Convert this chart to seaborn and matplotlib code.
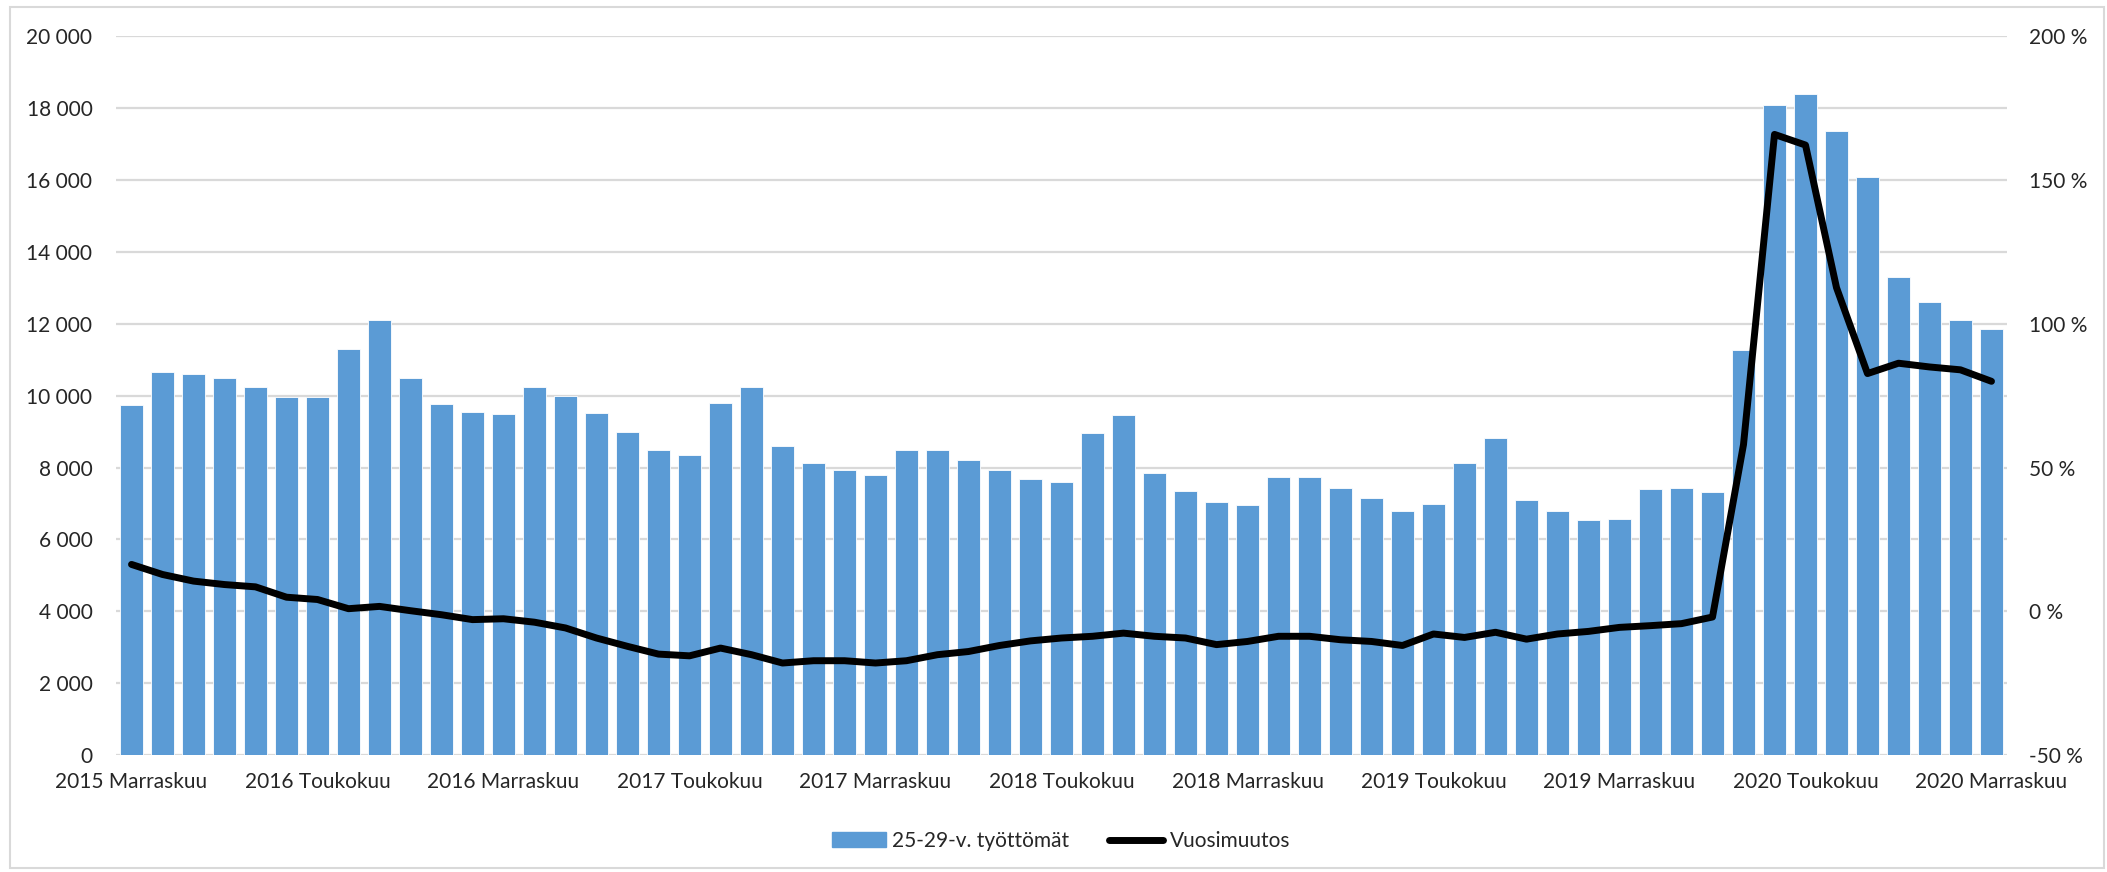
import numpy as np
import pandas as pd
import matplotlib
matplotlib.use("Agg")
import matplotlib.pyplot as plt
import matplotlib.patches as mpatches
import matplotlib.lines as mlines
from matplotlib import font_manager
from matplotlib.ticker import FuncFormatter
import seaborn as sns

# Data (Nov 2015 .. Nov 2020, monthly)
start_year = 2015
month_names = ["Marraskuu", "Joulukuu", "Tammikuu", "Helmikuu", "Maaliskuu", "Huhtikuu",
               "Toukokuu", "Kesäkuu", "Heinäkuu", "Elokuu", "Syyskuu", "Lokakuu"]

unemployed = [9750, 10670, 10600, 10490, 10240, 9960, 9960, 11310, 12100, 10490,
              9780, 9560, 9490, 10240, 9990, 9520, 9000, 8490, 8350, 9810,
              10240, 8600, 8140, 7930, 7780, 8490, 8490, 8200, 7930, 7670,
              7610, 8960, 9460, 7850, 7350, 7030, 6960, 7750, 7750, 7430,
              7140, 6790, 6990, 8140, 8820, 7110, 6790, 6540, 6580, 7390,
              7430, 7320, 11280, 18090, 18400, 17360, 16090, 13310, 12600, 12100, 11870]

yoy_change = [16.3, 12.8, 10.5, 9.3, 8.5, 4.9, 4.1, 0.9, 1.7, 0.2,
              -1.2, -2.9, -2.6, -3.8, -5.8, -9.3, -12.2, -14.9, -15.5, -12.8,
              -15.1, -18.0, -17.2, -17.2, -18.0, -17.2, -15.1, -14.0, -11.9, -10.3,
              -9.3, -8.7, -7.6, -8.7, -9.3, -11.6, -10.5, -8.7, -8.7, -9.9,
              -10.5, -11.9, -7.9, -9.1, -7.3, -9.7, -7.9, -7.0, -5.6, -5.0,
              -4.3, -2.0, 58.0, 165.9, 162.2, 112.6, 82.7, 86.3, 85.0, 84.0, 80.0]

bar_label = "25-29-v. työttömät"
line_label = "Vuosimuutos"

# month labels: 2015 Marraskuu, 2015 Joulukuu, 2016 Tammikuu, ...
labels = []
for i in range(len(unemployed)):
    year = start_year + (i + 10) // 12
    labels.append(f"{year} {month_names[i % 12]}")

df = pd.DataFrame({"idx": np.arange(len(unemployed)), "label": labels,
                   "unemployed": unemployed, "yoy": yoy_change})

sns.set_style("white")

# narrow Calibri-like font if we have one, otherwise Lato
installed = {f.name for f in font_manager.fontManager.ttflist}
if 'Liberation Sans Narrow' in installed:
    main_font, fs = 'Liberation Sans Narrow', 16
else:
    main_font, fs = 'Lato', 15
plt.rcParams['font.family'] = [main_font, 'DejaVu Sans']

bar_color = '#5B9BD5'
grid_color = '#D9D9D9'
text_color = '#262626'

fig = plt.figure(figsize=(21.07, 8.72), dpi=100)
ax = fig.add_axes([116 / 2107, 1 - 755 / 872, (2007 - 116) / 2107, (755 - 36.4) / 872])

sns.barplot(data=df, x="idx", y="unemployed", color=bar_color, saturation=1,
            width=0.74, ax=ax, edgecolor='white', linewidth=0.6)

ax.set_ylim(0, 20000)
ax.set_yticks(range(0, 20001, 2000))
ax.yaxis.set_major_formatter(FuncFormatter(lambda v, p: f"{int(v):,}".replace(",", " ")))
ax.yaxis.grid(True, color=grid_color, linewidth=1.6)
ax.set_axisbelow(True)
ax.set_xlim(-0.5, len(unemployed) - 0.5)
ax.set_xticks(range(0, len(unemployed), 6))
ax.set_xticklabels(labels[::6])
ax.set_xlabel("")
ax.set_ylabel("")
ax.tick_params(axis='both', length=0, labelsize=fs, colors=text_color)
ax.tick_params(axis='y', pad=17)
ax.tick_params(axis='x', pad=12)

ax2 = ax.twinx()
sns.lineplot(data=df, x="idx", y="yoy", color='black', linewidth=5, ax=ax2)
ax2.set_ylim(-50, 200)
ax2.set_yticks(range(-50, 201, 50))
ax2.yaxis.set_major_formatter(FuncFormatter(lambda v, p: f"{int(v)} %"))
ax2.tick_params(axis='y', length=0, labelsize=fs, pad=16, colors=text_color)
ax2.set_ylabel("")
ax2.set_xlim(-0.5, len(unemployed) - 0.5)

for a in (ax, ax2):
    for s in a.spines.values():
        s.set_visible(False)

# Legend below the plot
handles = [mpatches.Patch(color=bar_color, label=bar_label),
           mlines.Line2D([], [], color='black', linewidth=5, label=line_label)]
fig.legend(handles=handles, loc='center', bbox_to_anchor=(1061 / 2107, 1 - 841 / 872),
           ncol=2, frameon=False, fontsize=fs, handlelength=2.6, handletextpad=0.3,
           columnspacing=1.9, labelcolor=text_color)

# light chart-area border like the Excel original
fig.patches.append(mpatches.Rectangle((10 / 2107, 4 / 872), 2094 / 2107, 861 / 872,
                                      transform=fig.transFigure, fill=False,
                                      edgecolor=grid_color, linewidth=1.5))

fig.savefig("out.png", dpi=100)
